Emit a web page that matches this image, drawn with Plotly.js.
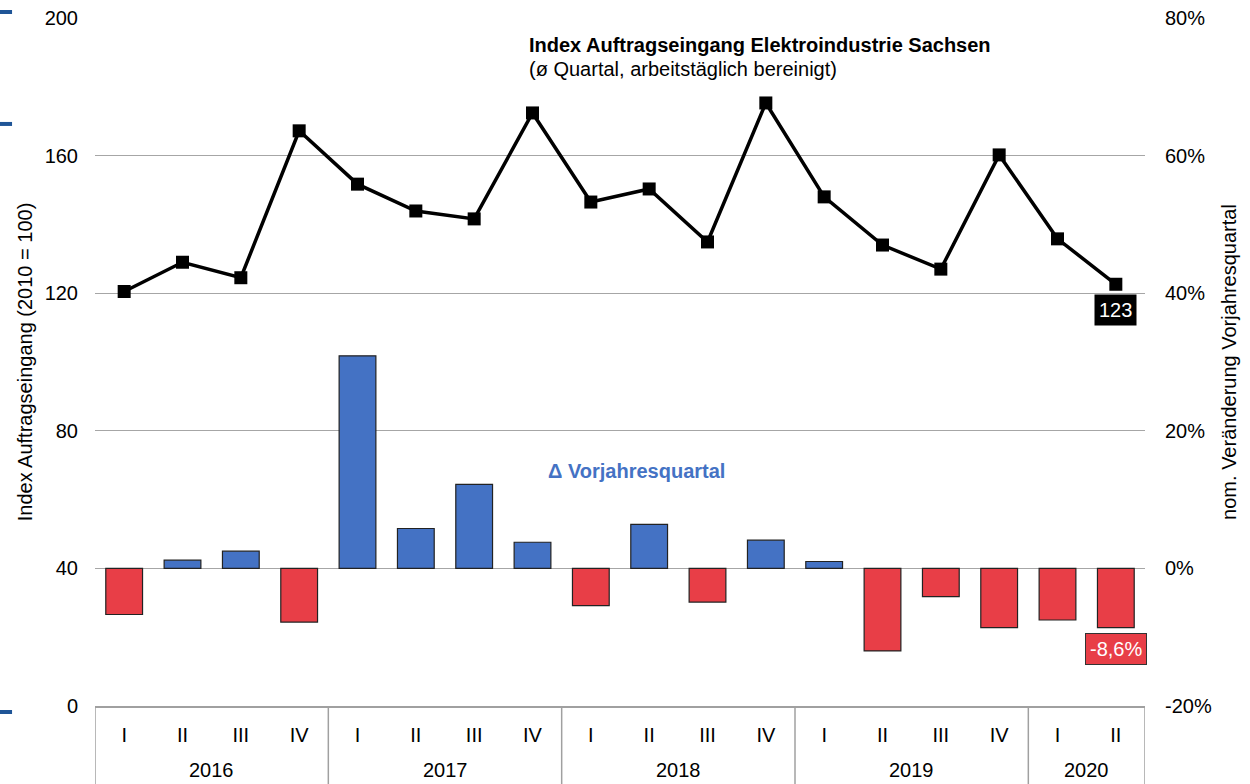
<!DOCTYPE html>
<html><head><meta charset="utf-8">
<script src="https://cdn.plot.ly/plotly-3.0.1.min.js"></script>
<style>html,body{margin:0;padding:0;background:#fff}#chart{width:1250px;height:784px}</style>
</head><body><div id="chart"></div>
<script>
const years = ["2016","2016","2016","2016","2017","2017","2017","2017","2018","2018","2018","2018","2019","2019","2019","2019","2020","2020"];
const quarters = ["I","II","III","IV","I","II","III","IV","I","II","III","IV","I","II","III","IV","I","II"];
const indexValues = [120.5,129,124.5,167.2,151.7,143.9,141.6,172.4,146.5,150.3,134.9,175.3,148,134,127,160.2,135.8,122.6];
const changePct = [-6.7,1.2,2.5,-7.8,30.9,5.8,12.2,3.8,-5.4,6.4,-4.9,4.1,1.0,-12.0,-4.1,-8.6,-7.5,-8.6];
const leftTicks = [0,40,80,120,160,200];
const rightTicks = [-20,0,20,40,60,80];

const FONT = "Liberation Sans, Arial, sans-serif";
const FS = 20;
const n = indexValues.length;
const idx = quarters.map((q, i) => i);
const barColors = changePct.map(v => v >= 0 ? "#4472c4" : "#e83e47");

// year groups
const groups = [];
years.forEach((y, i) => {
  if (!groups.length || groups[groups.length-1].year !== y) groups.push({year:y, start:i, end:i});
  else groups[groups.length-1].end = i;
});

const traces = [
  {type:"bar", x:idx, y:changePct, yaxis:"y2",
   marker:{color:barColors, line:{color:"#222", width:1.2}}, hoverinfo:"skip"},
  {type:"scatter", mode:"lines+markers", x:idx, y:indexValues, yaxis:"y",
   line:{color:"#000", width:3.5}, marker:{symbol:"square", size:13, color:"#000"}}
];

const AXH = 78 / 688; // axis label box height in paper units
const shapes = [];
const annotations = [];
groups.forEach(g => {
  annotations.push({xref:"x", yref:"paper", x:(g.start+g.end)/2, y:-0.093, xanchor:"center", yanchor:"middle",
    text:g.year, showarrow:false, font:{size:FS}});
  shapes.push({type:"line", xref:"x", yref:"paper", x0:g.start-0.5, x1:g.start-0.5, y0:0, y1:-AXH,
    line:{color:"#a0a0a0", width:1.5}});
});
shapes.push({type:"line", xref:"x", yref:"paper", x0:n-0.5, x1:n-0.5, y0:0, y1:-AXH, line:{color:"#a0a0a0", width:1.5}});
// decorative marks at far left
[1.0087, 0.846, -0.0087].forEach(yy => shapes.push({type:"line", xref:"paper", yref:"paper",
  x0:-0.0905, x1:-0.079, y0:yy, y1:yy, line:{color:"#1f5597", width:4}}));

annotations.push(
  {xref:"paper", yref:"paper", x:0.411, y:1.0, yshift:-14, xanchor:"left", yanchor:"top",
   text:"<b>Index Auftragseingang Elektroindustrie Sachsen</b>", showarrow:false, font:{size:FS}},
  {xref:"paper", yref:"paper", x:0.411, y:1.0, yshift:-38, xanchor:"left", yanchor:"top",
   text:"(ø Quartal, arbeitstäglich bereinigt)", showarrow:false, font:{size:FS}},
  {xref:"paper", yref:"paper", x:0.516, y:0.3416, xanchor:"center", yanchor:"middle",
   text:"<b>Δ Vorjahresquartal</b>", showarrow:false, font:{size:FS, color:"#4472c4"}},
  {xref:"x", yref:"y", x:n-1, y:indexValues[n-1], yshift:-10, xanchor:"center", yanchor:"top",
   text:"123", showarrow:false, bgcolor:"#000", font:{size:FS, color:"#fff"}, borderpad:4},
  {xref:"x", yref:"y2", x:n-1, y:changePct[n-1], yshift:-5, xanchor:"center", yanchor:"top",
   text:"-8,6%", showarrow:false, bgcolor:"#e83e47", bordercolor:"#333", borderwidth:1,
   font:{size:FS, color:"#fff"}, borderpad:4}
);

const layout = {
  width:1250, height:784,
  margin:{l:95, r:105, t:18, b:78},
  paper_bgcolor:"#fff", plot_bgcolor:"#fff",
  showlegend:false, bargap:0.37,
  font:{family:FONT, size:FS, color:"#000"},
  xaxis:{range:[-0.5, n-0.5], tickvals:idx, ticktext:quarters, automargin:false, showgrid:false, zeroline:false,
         showline:true, linecolor:"#a0a0a0", linewidth:1.5, ticks:"", ticklabelstandoff:10, tickfont:{size:FS}},
  yaxis:{range:[0,200], tickvals:leftTicks, automargin:false, showgrid:true, gridcolor:"#a6a6a6", gridwidth:1,
         zeroline:false, showline:false, ticks:"", ticklabelstandoff:16, tickfont:{size:FS},
         title:{text:"Index Auftragseingang (2010 = 100)", font:{size:FS}, standoff:6}},
  yaxis2:{range:[-20,80], tickvals:rightTicks, ticktext:rightTicks.map(v=>v+"%"), overlaying:"y", side:"right",
          automargin:false, showgrid:false, zeroline:false, showline:false, ticks:"", ticklabelstandoff:19, tickfont:{size:FS},
          title:{text:"nom. Veränderung Vorjahresquartal", font:{size:FS}, standoff:11}},
  annotations:annotations,
  shapes:shapes
};
Plotly.newPlot("chart", traces, layout, {displayModeBar:false, staticPlot:true});
</script></body></html>
